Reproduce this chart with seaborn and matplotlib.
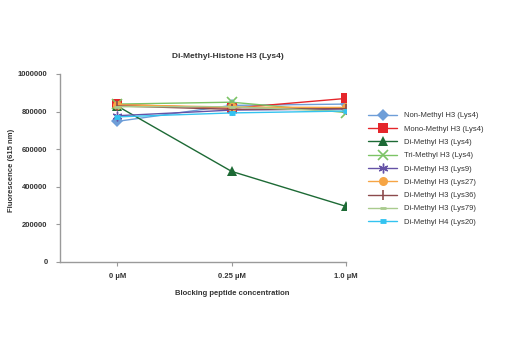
import matplotlib
matplotlib.use("Agg")
import matplotlib.pyplot as plt
import seaborn as sns
import pandas as pd
from matplotlib import font_manager

sns.set_theme(style="white")
avail = {f.name for f in font_manager.fontManager.ttflist}
fam = ["Liberation Sans Narrow", "Liberation Sans", "DejaVu Sans"]
fam = [f for f in fam if f in avail] or ["DejaVu Sans"]
plt.rcParams["font.family"] = fam

title = "Di-Methyl-Histone H3 (Lys4)"
concentrations = ["0 µM", "0.25 µM", "1.0 µM"]
series_names = [
    "Non-Methyl H3 (Lys4)",
    "Mono-Methyl H3 (Lys4)",
    "Di-Methyl H3 (Lys4)",
    "Tri-Methyl H3 (Lys4)",
    "Di-Methyl H3 (Lys9)",
    "Di-Methyl H3 (Lys27)",
    "Di-Methyl H3 (Lys36)",
    "Di-Methyl H3 (Lys79)",
    "Di-Methyl H4 (Lys20)",
]
non_methyl = [748000, 833000, 840000]
mono_methyl = [838000, 818000, 870000]
di_methyl_k4 = [830000, 482000, 296000]
tri_methyl = [840000, 850000, 795000]
di_methyl_k9 = [778000, 808000, 814000]
di_methyl_k27 = [836000, 824000, 822000]
di_methyl_k36 = [830000, 812000, 816000]
di_methyl_k79 = [826000, 826000, 800000]
di_methyl_h4k20 = [772000, 793000, 803000]
values = [non_methyl, mono_methyl, di_methyl_k4, tri_methyl, di_methyl_k9,
          di_methyl_k27, di_methyl_k36, di_methyl_k79, di_methyl_h4k20]

colors = ["#6E9ED8", "#E5262B", "#1D6A35", "#7CC465", "#6552A6",
          "#F6A545", "#8C4A4C", "#A9CB8E", "#33C3F0"]
markers = ["D", "s", "^", "x", (6, 2, 0), "o", "|", "_", "_"]
msizes = [6, 6.5, 6.5, 7, 7, 6.5, 7, 4, 5]
mews = [0, 0, 0, 1.2, 1.0, 0, 1.2, 2.0, 3.5]

fig = plt.figure(figsize=(5.2, 3.5), dpi=100)
ax = fig.add_axes([60/520, 88/350, 286/520, 188/350])

for name, vals, c, m, ms, mew in zip(series_names, values, colors, markers, msizes, mews):
    df = pd.DataFrame({"conc": concentrations, "val": vals})
    kw = dict(marker=m, markersize=ms, color=c, linewidth=1.0, label=name)
    if mew == 0:
        kw.update(markeredgewidth=0, markerfacecolor=c)
    else:
        kw.update(markeredgewidth=mew, markeredgecolor=c, markerfacecolor=c)
    sns.lineplot(data=df, x="conc", y="val", ax=ax, sort=False, **kw)

ax.set_xlim(-0.5, 2.0)
ax.set_ylim(0, 1000000)
ax.set_yticks([0, 200000, 400000, 600000, 800000, 1000000])
ax.set_yticklabels(["0", "200000", "400000", "600000", "800000", "1000000"])
for s in ["top", "right"]:
    ax.spines[s].set_visible(False)
for s in ["left", "bottom"]:
    ax.spines[s].set_color("#9a9a9a")
    ax.spines[s].set_linewidth(1.0)
ax.tick_params(axis="both", which="both", length=3, width=0.8, color="#9a9a9a",
               labelsize=5.5, labelcolor="#333333", direction="out", pad=5)
ax.tick_params(axis="y", pad=6)
ax.tick_params(left=True, bottom=True)
for lab in ax.get_xticklabels() + ax.get_yticklabels():
    lab.set_fontweight("bold")

ax.set_xlabel("Blocking peptide concentration", fontsize=5.5, fontweight="bold",
              color="#333333")
ax.xaxis.set_label_coords((232 - 60) / 286, -(290 - 262) / 188)
ax.set_ylabel("Fluorescence (615 nm)", fontsize=5.5, fontweight="bold",
              color="#333333")
ax.yaxis.set_label_coords(-(60 - 15) / 286, (262 - 170) / 188)
fig.text(228/520, 1 - 57/350, title, ha="center", va="center", fontsize=6,
         fontweight="bold", color="#333333")

leg = ax.legend(loc="upper left", bbox_to_anchor=(368/520, 1 - 112/350),
                bbox_transform=fig.transFigure, frameon=False, fontsize=5.5,
                handlelength=3.8, handletextpad=0.9, labelspacing=0.78,
                borderaxespad=0, borderpad=0)
for t in leg.get_texts():
    t.set_color("#333333")

fig.savefig("out.png", dpi=100)
